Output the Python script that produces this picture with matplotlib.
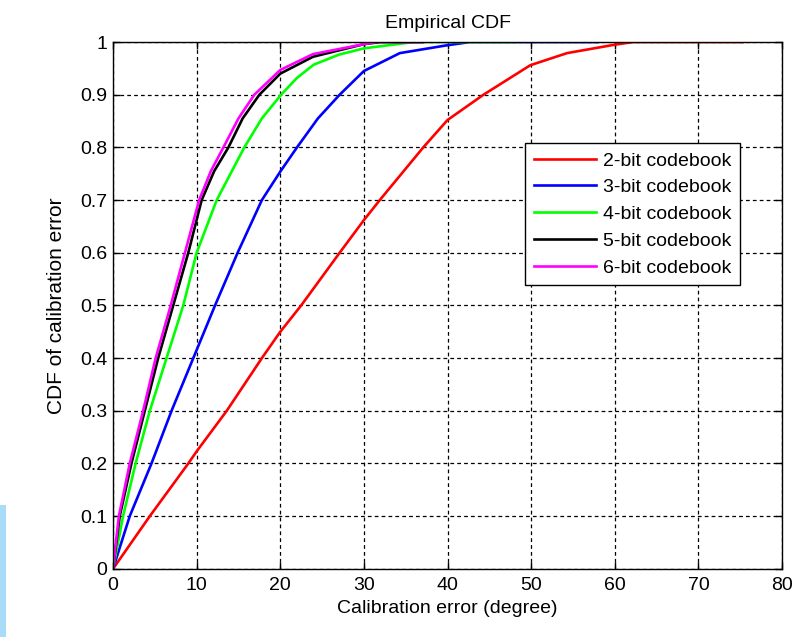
"""
Empirical CDF of calibration error for several codebook sizes.
"""

import matplotlib
matplotlib.use("Agg")
import matplotlib.pyplot as plt
from matplotlib.patches import Rectangle

# ── Values (error in degrees, CDF) ─────────────────────────────────
err_2bit = [0, 4.4, 9.0, 10.0, 13.6, 17.8, 20.0, 22.5, 27.1, 30.0, 31.9,
            37.1, 40.0, 44.3, 49.9, 54.3, 60.0, 62.2, 75.3]
cdf_2bit = [0, 0.10, 0.20, 0.223, 0.30, 0.40, 0.45, 0.50, 0.60, 0.662, 0.70,
            0.80, 0.852, 0.90, 0.956, 0.979, 0.995, 1.0, 1.0]

err_3bit = [0, 2.0, 4.6, 7.0, 9.6, 12.2, 14.9, 17.8, 20.0, 22.0, 24.5,
            27.1, 30.0, 34.3, 40.0, 42.7, 58.0]
cdf_3bit = [0, 0.10, 0.20, 0.30, 0.40, 0.50, 0.60, 0.70, 0.754, 0.80, 0.855,
            0.90, 0.945, 0.979, 0.994, 1.0, 1.0]

err_4bit = [0, 1.2, 2.7, 4.4, 6.4, 8.4, 10.0, 12.4, 15.7, 17.8, 20.1, 22.0,
            24.0, 27.0, 30.0, 35.9, 48.0]
cdf_4bit = [0, 0.10, 0.20, 0.30, 0.40, 0.50, 0.60, 0.70, 0.80, 0.855, 0.90,
            0.932, 0.957, 0.976, 0.988, 1.0, 1.0]

err_5bit = [0, 0.8, 2.2, 3.8, 5.4, 7.2, 9.0, 10.6, 12.1, 13.8, 15.5, 17.5,
            20.0, 23.9, 30.0, 32.0, 37.0]
cdf_5bit = [0, 0.10, 0.20, 0.30, 0.40, 0.50, 0.60, 0.70, 0.755, 0.80, 0.855,
            0.90, 0.94, 0.972, 0.996, 1.0, 1.0]

err_6bit = [0, 0.7, 2.0, 3.6, 5.1, 6.9, 8.6, 10.3, 11.7, 13.2, 15.0, 16.9,
            20.0, 23.9, 30.0, 31.5, 37.0]
cdf_6bit = [0, 0.10, 0.20, 0.30, 0.40, 0.50, 0.60, 0.70, 0.755, 0.80, 0.855,
            0.90, 0.947, 0.977, 0.996, 1.0, 1.0]

series = [
    (err_2bit, cdf_2bit, "#ff0000", "2-bit codebook"),
    (err_3bit, cdf_3bit, "#0000ff", "3-bit codebook"),
    (err_4bit, cdf_4bit, "#00ff00", "4-bit codebook"),
    (err_5bit, cdf_5bit, "#000000", "5-bit codebook"),
    (err_6bit, cdf_6bit, "#ff00ff", "6-bit codebook"),
]

x_ticks = [0, 10, 20, 30, 40, 50, 60, 70, 80]
y_ticks = [0, 0.1, 0.2, 0.3, 0.4, 0.5, 0.6, 0.7, 0.8, 0.9, 1]
y_tick_labels = ["0", "0.1", "0.2", "0.3", "0.4", "0.5", "0.6", "0.7",
                 "0.8", "0.9", "1"]

plt.rcParams["font.family"] = ["Liberation Sans", "DejaVu Sans"]

fig = plt.figure(figsize=(7.97, 6.37), dpi=100)
ax = fig.add_axes([0.1418, 0.107, 0.8394, 0.827])

# faixa azul clara na borda esquerda da captura
fig.patches.append(Rectangle((0, 0), 0.008, 0.207, transform=fig.transFigure,
                             facecolor="#a8dcf8", edgecolor="none"))

for xs, ys, cor, nome in series:
    ax.plot(xs, ys, color=cor, linewidth=1.9, label=nome)

ax.set_xlim(0, 80)
ax.set_ylim(0, 1)
ax.set_xticks(x_ticks)
ax.set_yticks(y_ticks)
ax.set_yticklabels(y_tick_labels)
ax.tick_params(labelsize=14, direction="in", length=5, width=1)
ax.tick_params(axis="x", pad=6)
ax.tick_params(axis="y", pad=4)
ax.tick_params(top=True, right=True)
ax.grid(True, color="black", linestyle=(0, (3, 2.5)), linewidth=0.9)
for s in ax.spines.values():
    s.set_linewidth(1)

ax.set_title("Empirical CDF", fontsize=14, pad=10)
ax.set_xlabel("Calibration error (degree)", fontsize=14, labelpad=4)
ax.set_ylabel("CDF of calibration error", fontsize=15, labelpad=10)

leg = ax.legend(loc="upper right", bbox_to_anchor=(0.937, 0.808),
                fontsize=14, fancybox=False, framealpha=1,
                edgecolor="black", handlelength=3.2, handletextpad=0.35,
                borderpad=0.45, labelspacing=0.47, borderaxespad=0)
leg.get_frame().set_linewidth(1)

fig.savefig("out.png", dpi=100)
